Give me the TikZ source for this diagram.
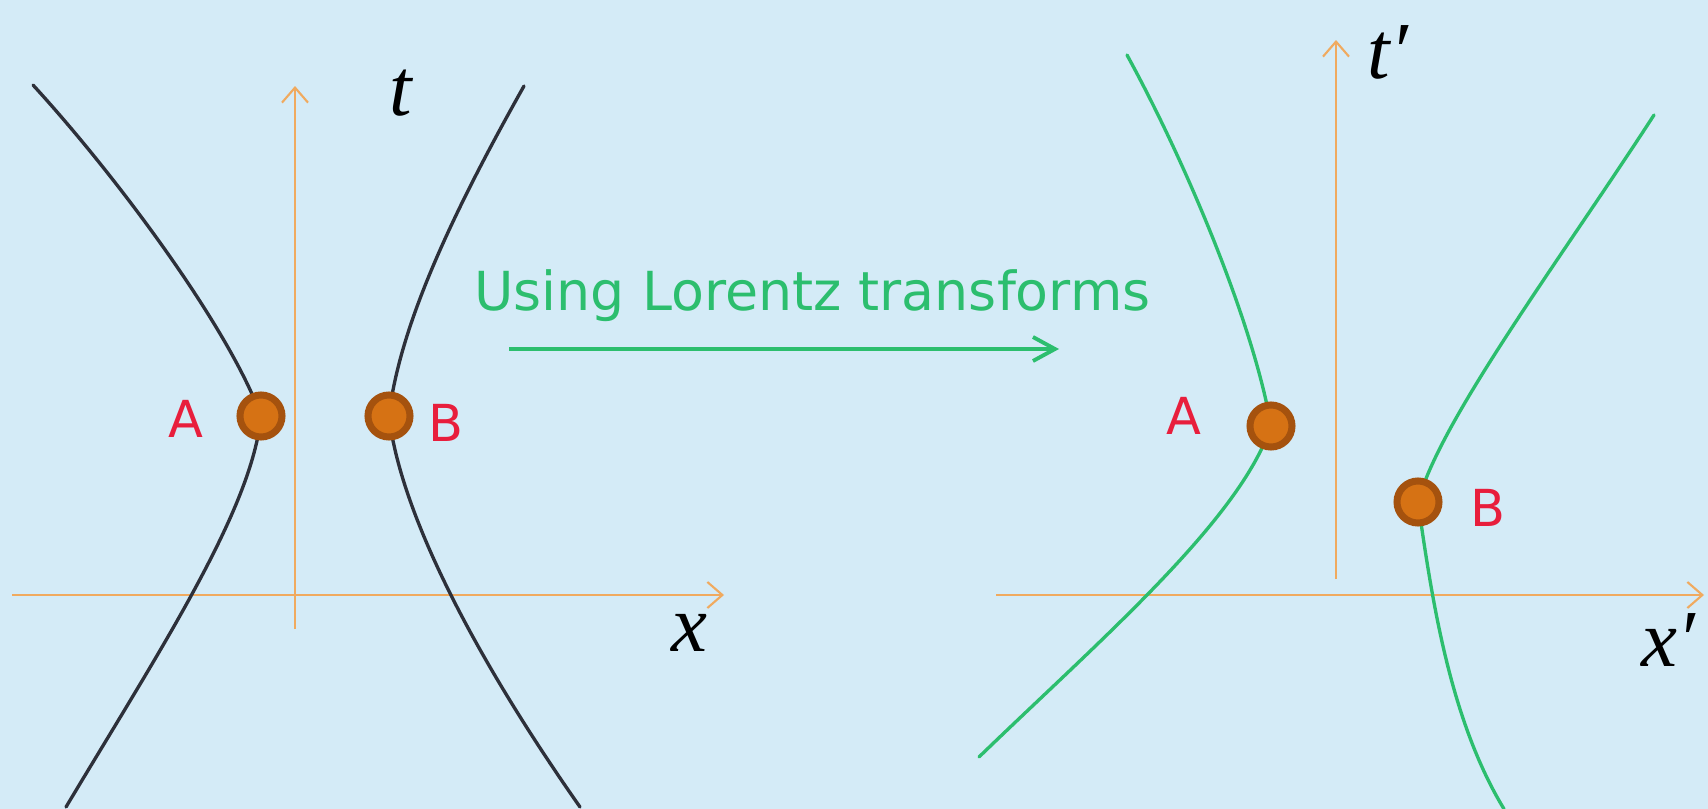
\documentclass[tikz,border=0pt]{standalone}
\usepackage{fontspec}
\setmainfont{DejaVu Sans}
\newfontfamily\timesfont{Liberation Serif}
\usepackage{xcolor}
\usetikzlibrary{arrows.meta}

\definecolor{bgblue}{RGB}{212,235,247}
\definecolor{axisorange}{RGB}{240,170,95}
\definecolor{curvegray}{RGB}{45,48,58}
\definecolor{curvegreen}{RGB}{44,190,110}
\definecolor{labelred}{RGB}{232,30,60}
\definecolor{dotfill}{RGB}{214,114,20}
\definecolor{dotring}{RGB}{165,82,14}

\begin{document}
\begin{tikzpicture}[x=0.01cm, y=-0.01cm,
    axis/.style={draw=axisorange, line width=0.6pt, -{Straight Barb[length=0.15cm,width=0.26cm]}},
    worldline/.style={line width=0.95pt, line cap=round},
    event/.style={circle, fill=dotfill, draw=dotring, line width=0.07cm, minimum size=0.42cm, inner sep=0pt},
    eventlabel/.style={text=labelred, font=\fontsize{14.5}{16}\selectfont},
    axislabel/.style={font=\timesfont\itshape\fontsize{23}{26}\selectfont}]
    \fill[bgblue] (0,0) rectangle (1708,809);
    \useasboundingbox (0,0) rectangle (1708,809);

    % Unprimed frame
    \coordinate (t0) at (295,629);
    \coordinate (t1) at (295,86);
    \coordinate (x0) at (12,595);
    \coordinate (x1) at (724,595);
    \draw[axis] (t0) -- (t1);
    \draw[axis] (x0) -- (x1);
    \node[axislabel] (tlab) at (401,93) {t};
    \node[axislabel] (xlab) at (689,633) {x};

    \draw[worldline, curvegray] (33,85) .. controls (120,180) and (230,330) .. (261,416)
        .. controls (252,510) and (160,650) .. (66,807);
    \draw[worldline, curvegray] (524,86) .. controls (460,200) and (400,320) .. (389,416)
        .. controls (400,510) and (470,650) .. (580,807);
    \node[event] (evA) at (261,416) {};
    \node[event] (evB) at (389,416) {};
    \node[eventlabel] (labA) at (186,419) {A};
    \node[eventlabel] (labB) at (446,423) {B};

    % Transformation
    \node[text=curvegreen, anchor=base west, font=\fontsize{15.3}{18}\selectfont] (using) at (462,310) {Using Lorentz transforms};
    \coordinate (arr0) at (509,349);
    \coordinate (arr1) at (1059,349);
    \draw[curvegreen, line width=1.1pt, -{Straight Barb[length=0.22cm,width=0.24cm]}] (arr0) -- (arr1);

    % Primed frame
    \coordinate (tp0) at (1336,579);
    \coordinate (tp1) at (1336,40);
    \coordinate (xp0) at (996,595);
    \coordinate (xp1) at (1704,595);
    \draw[axis] (tp0) -- (tp1);
    \draw[axis] (xp0) -- (xp1);
    \node[axislabel] (tplab) at (1388,52) {t′};
    \node[axislabel] (xplab) at (1668,640) {x′};

    \draw[worldline, curvegreen] (1127,55) .. controls (1190,170) and (1255,330) .. (1271,426)
        .. controls (1240,520) and (1100,640) .. (979,757);
    \draw[worldline, curvegreen] (1654,115) .. controls (1560,260) and (1440,420) .. (1418,502)
        .. controls (1432,600) and (1450,720) .. (1504,809);
    \node[event] (evAp) at (1271,426) {};
    \node[event] (evBp) at (1418,502) {};
    \node[eventlabel] (labAp) at (1184,416) {A};
    \node[eventlabel] (labBp) at (1488,508) {B};
\end{tikzpicture}
\end{document}
